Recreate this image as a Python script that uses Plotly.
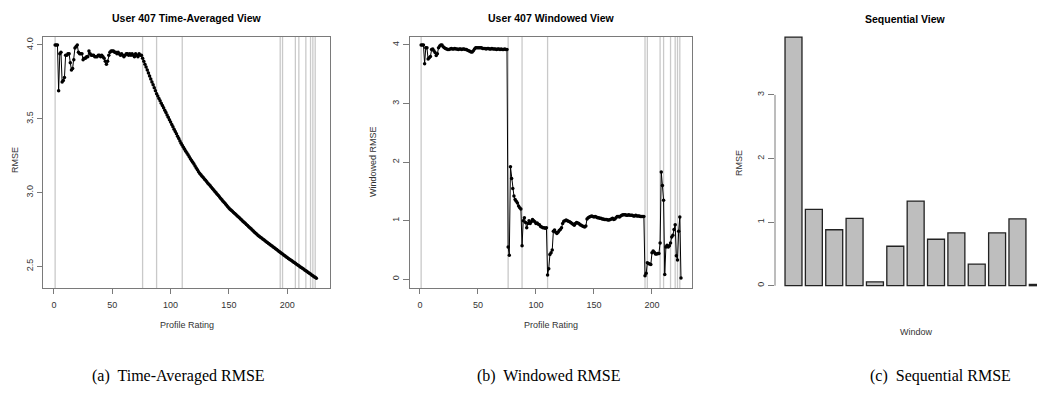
import plotly.graph_objects as go

W, H = 1037, 394

# ---------------- data ----------------
rating_index = list(range(1, 226))

time_avg_rmse = [
    4.00, 4.00, 4.00, 3.69, 3.94, 3.95, 3.75, 3.76, 3.78, 3.93, 3.93, 3.94, 3.94, 3.88, 3.83,
    3.84, 3.90, 3.98, 3.99, 4.00, 3.95, 3.94, 3.94, 3.94, 3.90, 3.91, 3.91, 3.92, 3.92, 3.96,
    3.94, 3.93, 3.93, 3.93, 3.92, 3.92, 3.92, 3.93, 3.93, 3.92, 3.93, 3.92, 3.91, 3.89, 3.87,
    3.89, 3.93, 3.95, 3.96, 3.96, 3.96, 3.95, 3.95, 3.94, 3.95, 3.94, 3.93, 3.94, 3.93, 3.92,
    3.93, 3.94, 3.94, 3.93, 3.94, 3.93, 3.94, 3.93, 3.92, 3.94, 3.93, 3.92, 3.94, 3.93, 3.93,
    3.91, 3.89, 3.87, 3.85, 3.83, 3.81, 3.79, 3.77, 3.75, 3.73, 3.71, 3.69, 3.67, 3.654, 3.638,
    3.622, 3.606, 3.590, 3.574, 3.558, 3.542, 3.526, 3.510, 3.494, 3.478, 3.462, 3.446, 3.430, 3.414, 3.398,
    3.382, 3.366, 3.350, 3.335, 3.320, 3.307, 3.294, 3.281, 3.268, 3.256, 3.243, 3.230, 3.218, 3.205, 3.193,
    3.180, 3.167, 3.155, 3.142, 3.130, 3.121, 3.111, 3.102, 3.092, 3.083, 3.074, 3.064, 3.055, 3.046, 3.036,
    3.027, 3.017, 3.008, 2.999, 2.989, 2.980, 2.971, 2.961, 2.952, 2.942, 2.933, 2.924, 2.914, 2.905, 2.895,
    2.888, 2.880, 2.873, 2.866, 2.858, 2.851, 2.843, 2.836, 2.829, 2.821, 2.814, 2.806, 2.799, 2.792, 2.784,
    2.777, 2.769, 2.762, 2.755, 2.747, 2.740, 2.732, 2.725, 2.718, 2.710, 2.704, 2.698, 2.692, 2.686, 2.680,
    2.674, 2.668, 2.662, 2.656, 2.650, 2.644, 2.638, 2.632, 2.626, 2.620, 2.614, 2.608, 2.602, 2.596, 2.590,
    2.584, 2.578, 2.572, 2.566, 2.560, 2.554, 2.549, 2.543, 2.538, 2.532, 2.526, 2.521, 2.515, 2.510, 2.504,
    2.498, 2.493, 2.487, 2.482, 2.476, 2.470, 2.465, 2.459, 2.454, 2.448, 2.442, 2.437, 2.431, 2.426, 2.420,
]

windowed_rmse = [
    4.00, 4.00, 4.00, 3.68, 3.95, 3.95, 3.76, 3.78, 3.80, 3.92, 3.93, 3.90, 3.87, 3.82, 3.85,
    3.95, 3.98, 4.00, 4.00, 3.97, 3.95, 3.94, 3.93, 3.92, 3.92, 3.93, 3.94, 3.93, 3.93, 3.94,
    3.93, 3.93, 3.92, 3.93, 3.93, 3.92, 3.93, 3.93, 3.92, 3.92, 3.91, 3.90, 3.89, 3.88, 3.88,
    3.90, 3.93, 3.95, 3.95, 3.95, 3.95, 3.95, 3.95, 3.94, 3.94, 3.94, 3.93, 3.94, 3.94, 3.93,
    3.93, 3.94, 3.93, 3.93, 3.93, 3.92, 3.93, 3.93, 3.92, 3.93, 3.92, 3.92, 3.93, 3.92, 3.92,
    0.55, 0.41, 1.92, 1.72, 1.55, 1.42, 1.36, 1.33, 1.30, 1.25, 1.22, 1.20, 0.57, 1.00, 1.05,
    0.97, 0.88, 0.95, 1.00, 0.95, 0.98, 1.02, 1.00, 0.98, 0.95, 0.96, 0.94, 0.93, 0.90, 0.89,
    0.88, 0.88, 0.87, 0.88, 0.07, 0.18, 0.42, 0.45, 0.50, 0.82, 0.84, 0.80, 0.78, 0.80, 0.83,
    0.85, 0.88, 0.95, 0.99, 1.00, 1.01, 1.00, 0.99, 0.98, 0.97, 0.95, 0.94, 0.92, 0.95, 0.97,
    0.96, 0.95, 0.93, 0.92, 0.91, 0.90, 0.89, 0.91, 1.03, 1.05, 1.06, 1.07, 1.08, 1.07, 1.06,
    1.07, 1.06, 1.05, 1.05, 1.04, 1.04, 1.03, 1.03, 1.02, 1.02, 1.02, 1.01, 1.01, 1.02, 1.03,
    1.04, 1.02, 1.03, 1.05, 1.07, 1.07, 1.06, 1.08, 1.09, 1.10, 1.10, 1.10, 1.09, 1.09, 1.10,
    1.09, 1.09, 1.09, 1.08, 1.08, 1.09, 1.08, 1.08, 1.08, 1.07, 1.07, 1.07, 1.07, 0.06, 0.10,
    0.28, 0.27, 0.26, 0.25, 0.45, 0.48, 0.46, 0.43, 0.43, 0.44, 0.44, 0.62, 1.83, 1.60, 1.35,
    0.08, 0.55, 0.58, 0.55, 0.57, 0.62, 0.72, 0.75, 0.85, 0.93, 0.40, 0.33, 0.82, 1.06, 0.02,
]

window_boundaries = [1, 76, 88, 110, 194, 196, 207, 210, 216, 220, 222, 224]

window_ids = list(range(1, 14))
sequential_rmse = [3.91, 1.20, 0.88, 1.06, 0.06, 0.62, 1.33, 0.73, 0.83, 0.34, 0.83, 1.05, 0.02]

x_ticks = [0, 50, 100, 150, 200]
ya_ticks = [2.5, 3.0, 3.5, 4.0]
ya_labels = ["2.5", "3.0", "3.5", "4.0"]
yb_ticks = [0, 1, 2, 3, 4]
yc_ticks = [0, 1, 2, 3]

# ---------------- styling helpers ----------------
FONT = "Liberation Sans, Arial, sans-serif"
SERIF = "Liberation Serif, Times New Roman, serif"
BOX = "#7a7a7a"
TICKFONT = dict(family=FONT, size=9, color="#333333")
VLINE = "#c9c9c9"


def px_x(p):
    return p / W


def px_y(p):
    return 1 - p / H


fig = go.Figure()

# Panel a
fig.add_trace(go.Scatter(
    x=rating_index, y=time_avg_rmse, mode="lines+markers",
    line=dict(color="black", width=1), marker=dict(color="black", size=3.5),
    xaxis="x", yaxis="y", showlegend=False))

# Panel b
fig.add_trace(go.Scatter(
    x=rating_index, y=windowed_rmse, mode="lines+markers",
    line=dict(color="black", width=1), marker=dict(color="black", size=3.5),
    xaxis="x2", yaxis="y2", showlegend=False))

# Panel c
fig.add_trace(go.Bar(
    x=window_ids, y=sequential_rmse,
    marker=dict(color="#bebebe", line=dict(color="#222222", width=1.3)),
    xaxis="x3", yaxis="y3", showlegend=False))

# window boundary lines
for b in window_boundaries:
    for xr, yr in (("x", "y"), ("x2", "y2")):
        fig.add_shape(type="line", xref=xr, yref=yr + " domain",
                      x0=b, x1=b, y0=0, y1=1,
                      line=dict(color=VLINE, width=1.3), layer="below")

# panel c y axis line (0..3)
fig.add_shape(type="line", xref="x3 domain", yref="y3", x0=0, x1=0,
              y0=yc_ticks[0], y1=yc_ticks[-1], line=dict(color=BOX, width=1))

ydom = [px_y(288), px_y(37)]

common_x = dict(showgrid=False, zeroline=False, showline=True, mirror=True,
                linecolor=BOX, linewidth=1, ticks="outside", ticklen=5,
                tickcolor=BOX, tickwidth=1, tickfont=TICKFONT, ticklabelstandoff=3,
                tickvals=x_ticks, ticktext=[str(t) for t in x_ticks])
common_y = dict(showgrid=False, zeroline=False, showline=True, mirror=True,
                linecolor=BOX, linewidth=1, ticks="outside",
                tickcolor=BOX, tickwidth=1, tickfont=TICKFONT, tickangle=-90)

fig.update_layout(
    width=W, height=H, margin=dict(l=0, r=0, t=0, b=0),
    paper_bgcolor="white", plot_bgcolor="white",
    bargap=0.1667,
    xaxis=dict(domain=[px_x(43), px_x(330)], range=[-9.4, 236.7], anchor="y", **common_x),
    yaxis=dict(domain=ydom, range=[2.354, 4.054], anchor="x", ticklen=5,
               tickvals=ya_ticks, ticktext=ya_labels, **common_y),
    xaxis2=dict(domain=[px_x(410), px_x(692)], range=[-8.6, 234.5], anchor="y2", **common_x),
    yaxis2=dict(domain=ydom, range=[-0.15, 4.135], anchor="x2", ticklen=6,
                tickvals=yb_ticks, ticktext=[str(t) for t in yb_ticks], **common_y),
    xaxis3=dict(domain=[px_x(775), 1.0], range=[0.0914, 12.96], anchor="y3",
                showgrid=False, zeroline=False, showline=False, showticklabels=False,
                ticks=""),
    yaxis3=dict(domain=[px_y(296), px_y(20)], range=[-0.162, 4.178], anchor="x3",
                showgrid=False, zeroline=False, showline=False, ticks="outside",
                ticklen=6, tickcolor=BOX, tickwidth=1, tickfont=TICKFONT, tickangle=-90,
                tickvals=yc_ticks, ticktext=[str(t) for t in yc_ticks]),
)

anns = [
    # panel titles
    (186.5, 18, "<b>User 407 Time-Averaged View</b>", 10.5, 0, FONT, "black"),
    (551, 18, "<b>User 407 Windowed View</b>", 10.5, 0, FONT, "black"),
    (905, 19, "<b>Sequential View</b>", 10.5, 0, FONT, "black"),
    # axis titles
    (186.5, 325, "Profile Rating", 9, 0, FONT, "#333333"),
    (551, 325, "Profile Rating", 9, 0, FONT, "#333333"),
    (916, 332, "Window", 9, 0, FONT, "#333333"),
    (15, 160, "RMSE", 9, -90, FONT, "#333333"),
    (373, 162, "Windowed RMSE", 9, -90, FONT, "#333333"),
    (739, 163, "RMSE", 9, -90, FONT, "#333333"),
    # captions
    (178, 376, "(a)  Time-Averaged RMSE", 16, 0, SERIF, "black"),
    (549, 376, "(b)  Windowed RMSE", 16, 0, SERIF, "black"),
    (940, 376, "(c)  Sequential RMSE", 16, 0, SERIF, "black"),
]
for x, y, t, s, ang, fam, col in anns:
    fig.add_annotation(x=px_x(x), y=px_y(y), xref="paper", yref="paper", text=t,
                       showarrow=False, xanchor="center", yanchor="middle",
                       textangle=ang, font=dict(family=fam, size=s, color=col))

fig.write_html("out.html")
